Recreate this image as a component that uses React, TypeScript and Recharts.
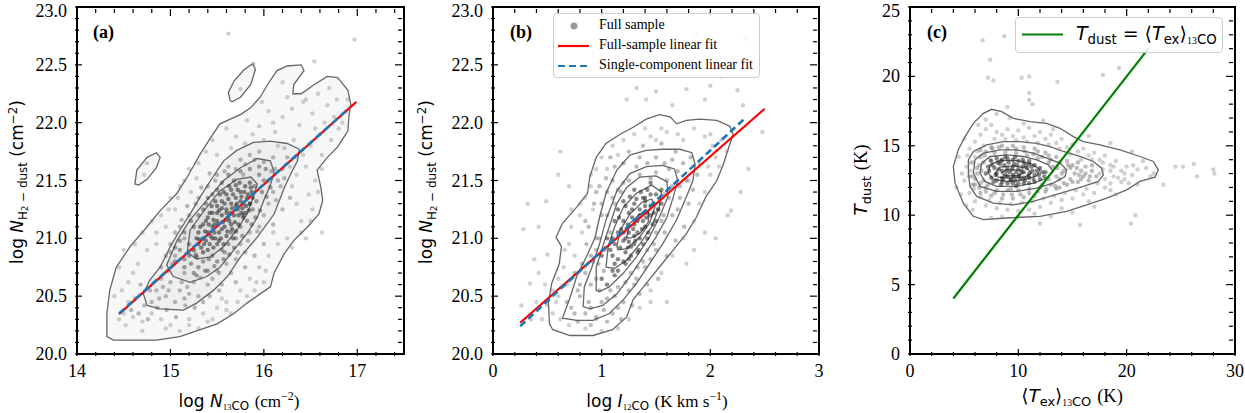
import React from "react";
import { Legend, ReferenceArea, Scatter, ScatterChart, XAxis, YAxis } from "recharts";

type Pair = [number, number];

// ---------------------------------------------------------------- ticks
const A_X_TICKS = [14, 14.2, 14.4, 14.6, 14.8, 15, 15.2, 15.4, 15.6, 15.8, 16, 16.2, 16.4, 16.6, 16.8, 17, 17.2, 17.4];
const A_X_MAJOR = [14, 15, 16, 17];
const B_X_TICKS = [0, 0.2, 0.4, 0.6, 0.8, 1, 1.2, 1.4, 1.6, 1.8, 2, 2.2, 2.4, 2.6, 2.8, 3];
const B_X_MAJOR = [0, 1, 2, 3];
const NH2_Y_TICKS = [
  20, 20.1, 20.2, 20.3, 20.4, 20.5, 20.6, 20.7, 20.8, 20.9, 21, 21.1, 21.2, 21.3, 21.4, 21.5,
  21.6, 21.7, 21.8, 21.9, 22, 22.1, 22.2, 22.3, 22.4, 22.5, 22.6, 22.7, 22.8, 22.9, 23,
];
const NH2_Y_MAJOR = [20, 20.5, 21, 21.5, 22, 22.5, 23];
const C_X_TICKS = [0, 2, 4, 6, 8, 10, 12, 14, 16, 18, 20, 22, 24, 26, 28, 30];
const C_X_MAJOR = [0, 10, 20, 30];
const C_Y_TICKS = [0, 1, 2, 3, 4, 5, 6, 7, 8, 9, 10, 11, 12, 13, 14, 15, 16, 17, 18, 19, 20, 21, 22, 23, 24, 25];
const C_Y_MAJOR = [0, 5, 10, 15, 20, 25];

// ---------------------------------------------------------------- panel (a)
const A_FIT_FULL: Pair[] = [[14.45, 20.345], [16.99, 22.18]];
const A_FIT_SINGLE: Pair[] = [[14.45, 20.35], [16.92, 22.13]];

const A_CONTOUR_OUTER: Pair[] = [
  [14.32, 20.15], [14.32, 20.35], [14.35, 20.55], [14.42, 20.75], [14.57, 20.93], [14.75, 21.1],
  [14.89, 21.24], [15.07, 21.39], [15.18, 21.53], [15.32, 21.73], [15.43, 21.87], [15.53, 21.99],
  [15.64, 22.03], [15.75, 22.07], [15.86, 22.13], [15.96, 22.22], [16.04, 22.33], [16.14, 22.45],
  [16.25, 22.49], [16.4, 22.5], [16.43, 22.45], [16.32, 22.33], [16.31, 22.25], [16.4, 22.25],
  [16.54, 22.33], [16.68, 22.4], [16.79, 22.39], [16.9, 22.28], [16.93, 22.16], [16.91, 22.05],
  [16.9, 21.93], [16.79, 21.79], [16.68, 21.7], [16.57, 21.59], [16.61, 21.44], [16.63, 21.33],
  [16.59, 21.21], [16.47, 21.1], [16.32, 20.98], [16.22, 20.87], [16.11, 20.7], [16.07, 20.58],
  [15.96, 20.52], [15.82, 20.44], [15.68, 20.35], [15.5, 20.26], [15.32, 20.21], [15.1, 20.15],
  [14.85, 20.12], [14.6, 20.12], [14.39, 20.12],
];
const A_CONTOUR_ISLAND_TOP: Pair[] = [
  [15.64, 22.19], [15.62, 22.26], [15.68, 22.36], [15.79, 22.46], [15.88, 22.51], [15.91, 22.46],
  [15.86, 22.33], [15.75, 22.22], [15.66, 22.18],
];
const A_CONTOUR_ISLAND_LEFT: Pair[] = [
  [14.62, 21.47], [14.64, 21.59], [14.75, 21.7], [14.85, 21.74], [14.89, 21.7], [14.85, 21.61],
  [14.75, 21.51], [14.66, 21.46],
];
const A_CONTOUR_2: Pair[] = [
  [14.75, 20.42], [14.71, 20.52], [14.78, 20.64], [14.89, 20.75], [15.0, 20.93], [15.1, 21.07],
  [15.21, 21.21], [15.32, 21.36], [15.43, 21.5], [15.57, 21.67], [15.71, 21.76], [15.89, 21.83],
  [16.07, 21.84], [16.25, 21.82], [16.38, 21.77], [16.36, 21.67], [16.29, 21.56], [16.22, 21.44],
  [16.11, 21.21], [15.93, 21.01], [15.75, 20.84], [15.61, 20.67], [15.46, 20.55], [15.28, 20.44],
  [15.14, 20.38], [14.89, 20.39],
];
const A_CONTOUR_3: Pair[] = [
  [14.96, 20.77], [15.07, 20.98], [15.21, 21.16], [15.39, 21.33], [15.57, 21.5], [15.75, 21.61],
  [15.93, 21.69], [16.07, 21.67], [16.11, 21.57], [16.07, 21.46], [16.0, 21.33], [15.93, 21.18],
  [15.82, 21.04], [15.68, 20.9], [15.53, 20.75], [15.39, 20.67], [15.21, 20.62], [15.03, 20.67],
];
const A_CONTOUR_4: Pair[] = [
  [15.18, 20.88], [15.21, 21.07], [15.36, 21.24], [15.53, 21.41], [15.71, 21.51], [15.86, 21.53],
  [15.93, 21.47], [15.89, 21.36], [15.82, 21.21], [15.71, 21.07], [15.57, 20.93], [15.43, 20.84],
  [15.28, 20.82],
];

const A_POINTS_SPARSE: Pair[] = [
  [15.62, 22.77], [16.97, 22.72], [16.54, 22.53], [15.89, 22.51], [15.75, 22.29], [16.45, 21.0],
  [16.62, 21.05], [14.48, 20.55], [16.2, 22.35], [16.42, 22.18],
  [15.45, 21.85], [15.6, 21.95], [15.7, 21.88], [15.82, 22.02], [15.95, 21.97], [16.05, 22.1],
  [16.12, 21.92], [16.2, 22.05], [16.3, 22.12], [16.38, 21.98], [16.45, 22.2], [16.52, 22.08],
  [16.6, 21.9], [16.68, 22.15], [16.75, 22.05], [16.8, 21.95], [16.88, 22.1], [16.9, 22.2],
  [16.7, 22.3], [16.58, 22.25], [16.25, 22.22], [15.98, 22.18], [16.15, 21.8], [16.32, 21.85],
  [16.5, 21.8], [16.62, 21.72], [16.45, 21.62], [16.55, 21.5], [16.48, 21.38], [16.52, 21.25],
  [16.4, 21.15], [16.35, 21.3], [16.3, 21.45], [16.42, 21.72], [16.28, 21.62],
  [14.45, 20.75], [14.5, 20.9], [14.62, 20.95], [14.7, 21.05], [14.8, 21.15], [14.9, 21.2],
  [15.0, 21.35], [15.1, 21.45], [15.2, 21.6], [15.3, 21.65], [14.55, 20.62], [14.4, 20.5],
  [14.65, 20.78], [14.85, 20.95], [15.05, 21.25], [14.72, 21.55], [14.75, 21.65], [14.95, 21.1],
  [15.15, 21.5], [15.38, 21.75],
  [14.45, 20.3], [14.52, 20.25], [14.6, 20.32], [14.7, 20.28], [14.8, 20.35], [14.9, 20.3],
  [15.0, 20.25], [15.2, 20.3], [15.35, 20.35], [15.5, 20.4], [15.6, 20.45], [15.75, 20.55],
  [15.85, 20.65], [15.95, 20.75], [16.05, 20.85], [16.15, 20.95], [16.25, 21.0], [15.45, 20.3],
  [15.3, 20.22], [15.1, 20.2], [15.65, 20.35], [15.9, 20.55], [16.0, 20.62], [15.55, 20.48],
  [16.1, 21.05],
  [16.35, 21.55], [16.22, 21.78], [16.35, 21.7], [16.55, 21.95], [16.65, 22.0], [16.78, 22.2],
  [16.84, 22.0], [16.72, 21.85], [16.62, 21.6], [16.58, 21.4], [16.5, 21.15], [16.4, 21.05],
  [16.3, 20.92], [16.02, 20.72], [15.92, 20.62], [15.82, 20.5], [15.72, 20.45], [15.6, 20.38],
  [15.4, 20.28], [15.2, 20.25], [14.95, 20.22], [14.7, 20.2], [14.5, 20.35], [14.55, 20.45],
  [14.6, 20.7], [14.75, 20.9], [14.85, 21.05], [14.98, 21.25], [15.08, 21.35], [15.22, 21.4],
  [15.28, 21.52], [15.5, 21.72], [15.65, 21.78], [15.8, 21.82], [16.0, 21.85], [16.1, 22.0],
  [15.88, 21.9],
];
const A_POINTS_MID: Pair[] = [
  [14.8, 20.45], [14.85, 20.55], [14.95, 20.5], [14.9, 20.65], [15.0, 20.62], [15.05, 20.45],
  [15.1, 20.55], [15.15, 20.48], [15.2, 20.52], [15.3, 20.5], [15.4, 20.6], [15.45, 20.65],
  [15.5, 20.72], [15.6, 20.78], [15.7, 20.82], [15.75, 20.95], [15.8, 20.88], [15.85, 21.05],
  [15.95, 21.1], [16.0, 21.2], [16.05, 21.3], [16.1, 21.4], [16.15, 21.5], [16.2, 21.6],
  [16.25, 21.7], [16.1, 21.7], [15.95, 21.75], [15.85, 21.72], [15.75, 21.68], [15.62, 21.62],
  [15.5, 21.55], [15.4, 21.45], [15.3, 21.35], [15.2, 21.2], [15.1, 21.1], [15.0, 20.95],
  [14.95, 20.85], [14.9, 20.75], [15.02, 20.78], [15.15, 20.7], [15.25, 20.62], [15.55, 20.6],
  [15.65, 20.7], [16.05, 21.5], [16.12, 21.6], [15.78, 21.55], [15.15, 21.0], [15.05, 20.85],
  [14.98, 20.55], [15.35, 20.45],
  [15.12, 20.62], [15.18, 20.58], [15.32, 20.66], [15.52, 20.7], [15.72, 20.88], [15.83, 20.98],
  [15.93, 21.06], [16.13, 21.33], [16.18, 21.45], [16.22, 21.52], [16.08, 21.58], [16.0, 21.66],
  [15.9, 21.68], [15.8, 21.64], [15.7, 21.6], [15.58, 21.58], [15.48, 21.5], [15.42, 21.56],
  [15.33, 21.44], [15.27, 21.3], [15.18, 21.28], [15.12, 21.16], [15.05, 21.05], [15.0, 20.88],
  [14.97, 20.72], [14.92, 20.58], [14.88, 20.48], [14.78, 20.55], [14.72, 20.42], [14.68, 20.6],
  [14.62, 20.48], [14.58, 20.38], [14.66, 20.35], [14.76, 20.3], [14.86, 20.4], [14.96, 20.38],
  [15.06, 20.32], [15.16, 20.42], [15.26, 20.4], [15.42, 20.5], [15.52, 20.55], [15.7, 20.62],
  [15.8, 20.75], [15.9, 20.85], [16.0, 20.95], [16.1, 21.12], [16.2, 21.25], [16.28, 21.35],
];
const A_POINTS_INNER: Pair[] = [
  [15.05, 20.8], [15.1, 20.9], [15.15, 20.75], [15.2, 20.85], [15.25, 20.7], [15.3, 20.75],
  [15.4, 20.72], [15.5, 20.8], [15.55, 20.9], [15.62, 20.95], [15.7, 21.0], [15.75, 21.1],
  [15.82, 21.15], [15.88, 21.25], [15.92, 21.32], [15.98, 21.4], [16.0, 21.5], [16.02, 21.6],
  [15.95, 21.62], [15.85, 21.6], [15.75, 21.58], [15.62, 21.55], [15.55, 21.48], [15.45, 21.38],
  [15.38, 21.3], [15.3, 21.2], [15.25, 21.1], [15.15, 21.05], [15.1, 20.98], [15.2, 20.95],
  [15.35, 20.8], [15.45, 20.85], [15.65, 21.05], [15.78, 21.2], [15.9, 21.45], [15.68, 21.5],
  [15.5, 21.42], [15.35, 21.25], [15.22, 21.15], [15.15, 20.82], [15.28, 20.68], [15.95, 21.55],
  [15.58, 20.88], [15.85, 21.3], [15.4, 21.35], [15.05, 20.92],
  [15.22, 20.78], [15.27, 20.86], [15.37, 20.72], [15.41, 20.82], [15.47, 20.76], [15.57, 20.82],
  [15.63, 20.86], [15.68, 20.92], [15.77, 21.02], [15.87, 21.12], [15.91, 21.18], [15.96, 21.24],
  [16.03, 21.36], [16.07, 21.44],
];
const A_POINTS_CORE: Pair[] = [
  [15.25, 20.9], [15.3, 20.95], [15.35, 21.0], [15.4, 21.05], [15.45, 21.1], [15.5, 21.15],
  [15.55, 21.2], [15.6, 21.25], [15.65, 21.3], [15.7, 21.35], [15.75, 21.4], [15.8, 21.45],
  [15.85, 21.48], [15.3, 21.05], [15.35, 21.12], [15.4, 21.18], [15.45, 21.22], [15.5, 21.28],
  [15.55, 21.32], [15.6, 21.38], [15.65, 21.42], [15.7, 21.46], [15.35, 20.88], [15.42, 20.95],
  [15.48, 21.0], [15.52, 21.05], [15.58, 21.1], [15.63, 21.15], [15.68, 21.2], [15.72, 21.25],
  [15.78, 21.3], [15.82, 21.35], [15.87, 21.4], [15.4, 20.9], [15.46, 20.92], [15.52, 20.98],
  [15.6, 21.02], [15.66, 21.08], [15.73, 21.12], [15.8, 21.22], [15.85, 21.3], [15.28, 21.0],
  [15.33, 20.92], [15.45, 21.0], [15.55, 21.08], [15.62, 21.18], [15.7, 21.28], [15.76, 21.36],
  [15.5, 21.22], [15.58, 21.3], [15.38, 21.15], [15.44, 21.28], [15.53, 21.38], [15.63, 21.45],
  [15.74, 21.48], [15.78, 21.18], [15.67, 21.0], [15.57, 20.95], [15.47, 21.12], [15.6, 21.22],
  [15.28, 20.84], [15.32, 21.1], [15.38, 20.98], [15.43, 21.02], [15.47, 21.05], [15.51, 21.12],
  [15.54, 21.0], [15.56, 21.14], [15.59, 21.16], [15.61, 21.06], [15.64, 21.22], [15.66, 21.26],
  [15.69, 21.14], [15.71, 21.3], [15.73, 21.2], [15.75, 21.32], [15.77, 21.26], [15.79, 21.4],
  [15.81, 21.28], [15.83, 21.38], [15.86, 21.44], [15.42, 21.22], [15.48, 21.32], [15.52, 21.24],
  [15.57, 21.4], [15.62, 21.34], [15.67, 21.38], [15.72, 21.42], [15.36, 20.95], [15.41, 21.12],
  [15.46, 21.16], [15.5, 20.95], [15.55, 21.26], [15.65, 21.12], [15.7, 21.06], [15.76, 21.22],
  [15.84, 21.24], [15.88, 21.35], [15.31, 20.99], [15.37, 21.06],
];

// ---------------------------------------------------------------- panel (b)
const B_FIT_FULL: Pair[] = [[0.25, 20.27], [2.5, 22.12]];
const B_FIT_SINGLE: Pair[] = [[0.25, 20.24], [2.31, 22.03]];

const B_CONTOUR_1: Pair[] = [
  [0.52, 20.26], [0.51, 20.44], [0.54, 20.61], [0.61, 20.78], [0.63, 20.93], [0.58, 21.01],
  [0.64, 21.13], [0.77, 21.27], [0.87, 21.39], [0.89, 21.53], [0.95, 21.7], [1.04, 21.82],
  [1.17, 21.9], [1.29, 21.96], [1.41, 22.03], [1.53, 22.07], [1.63, 22.05], [1.69, 21.99],
  [1.78, 22.02], [1.9, 22.03], [2.06, 22.02], [2.18, 21.97], [2.21, 21.9], [2.16, 21.76],
  [2.12, 21.64], [2.06, 21.5], [1.96, 21.36], [1.87, 21.18], [1.78, 21.04], [1.66, 20.9],
  [1.53, 20.75], [1.41, 20.61], [1.29, 20.47], [1.23, 20.32], [1.1, 20.21], [0.92, 20.16],
  [0.71, 20.16], [0.55, 20.21],
];
const B_CONTOUR_2: Pair[] = [
  [0.64, 20.31], [0.71, 20.49], [0.77, 20.67], [0.86, 20.84], [0.94, 21.01], [0.98, 21.18],
  [1.04, 21.39], [1.14, 21.59], [1.26, 21.72], [1.41, 21.76], [1.56, 21.77], [1.72, 21.77],
  [1.83, 21.74], [1.86, 21.64], [1.84, 21.5], [1.78, 21.36], [1.69, 21.16], [1.56, 20.95],
  [1.44, 20.78], [1.32, 20.61], [1.2, 20.47], [1.07, 20.35], [0.92, 20.29], [0.77, 20.29],
];
const B_CONTOUR_3: Pair[] = [
  [0.83, 20.41], [0.84, 20.58], [0.91, 20.75], [0.98, 20.95], [1.04, 21.16], [1.14, 21.41],
  [1.26, 21.56], [1.41, 21.62], [1.56, 21.63], [1.67, 21.6], [1.7, 21.5], [1.66, 21.36],
  [1.6, 21.18], [1.5, 21.01], [1.38, 20.84], [1.26, 20.67], [1.14, 20.52], [1.01, 20.42],
  [0.89, 20.39],
];
const B_CONTOUR_4: Pair[] = [
  [0.95, 20.55], [0.95, 20.75], [1.01, 20.93], [1.07, 21.1], [1.14, 21.3], [1.23, 21.44],
  [1.35, 21.53], [1.5, 21.54], [1.6, 21.49], [1.61, 21.36], [1.53, 21.18], [1.44, 21.01],
  [1.32, 20.84], [1.2, 20.7], [1.07, 20.58], [0.98, 20.54],
];
const B_CONTOUR_5: Pair[] = [
  [1.04, 20.75], [1.06, 20.93], [1.12, 21.1], [1.2, 21.27], [1.32, 21.39], [1.46, 21.46],
  [1.55, 21.4], [1.53, 21.27], [1.46, 21.1], [1.35, 20.95], [1.23, 20.81], [1.12, 20.74],
];
const B_CONTOUR_6: Pair[] = [
  [1.14, 20.93], [1.17, 21.07], [1.26, 21.21], [1.37, 21.31], [1.46, 21.34], [1.49, 21.27],
  [1.44, 21.13], [1.35, 21.01], [1.23, 20.91], [1.15, 20.9],
];
const B_CONTOUR_7: Pair[] = [
  [1.23, 21.01], [1.26, 21.13], [1.35, 21.21], [1.43, 21.23], [1.43, 21.14], [1.35, 21.04],
  [1.26, 21.0],
];

const B_POINTS_SPARSE: Pair[] = [
  [0.28, 21.08], [0.49, 21.32], [0.5, 20.86], [0.38, 20.82], [0.6, 21.55], [0.34, 20.61],
  [0.26, 20.42], [1.6, 20.45], [2.16, 21.2], [2.19, 21.24], [2.48, 21.92], [2.25, 22.28],
  [1.32, 22.3], [1.5, 22.27], [1.78, 22.29], [2.0, 22.32], [1.87, 22.77], [2.32, 22.72],
  [2.19, 22.5], [1.41, 22.2], [1.23, 22.2], [2.1, 22.4], [1.65, 22.15], [2.3, 22.15],
  [1.95, 22.2], [0.45, 20.3],
  [0.55, 20.35], [0.6, 20.5], [0.65, 20.75], [0.7, 20.95], [0.72, 21.1], [0.8, 21.2],
  [0.85, 21.35], [0.9, 21.45], [0.95, 21.6], [1.0, 21.7], [1.1, 21.8], [1.2, 21.85],
  [1.3, 21.9], [1.4, 21.95], [1.55, 21.95], [1.7, 21.9], [1.85, 21.95], [2.0, 21.9],
  [2.1, 21.85], [2.05, 21.7], [2.0, 21.55], [1.95, 21.4], [1.9, 21.3], [1.85, 21.15],
  [1.75, 21.0], [1.65, 20.85], [1.55, 20.7], [1.45, 20.55], [1.35, 20.4], [1.25, 20.3],
  [1.15, 20.22], [1.0, 20.2], [0.85, 20.22], [0.7, 20.25], [0.62, 20.3], [0.68, 20.6],
  [0.75, 20.85], [0.82, 21.05], [0.92, 21.25], [1.05, 21.6], [2.15, 21.75], [1.5, 21.85],
  [1.9, 21.65], [1.8, 21.5], [0.58, 20.45], [0.95, 20.3], [1.45, 20.45],
  [2.02, 21.8], [1.95, 21.88], [2.08, 21.62], [1.98, 21.62], [1.75, 21.85], [1.6, 21.92],
  [1.45, 21.88], [1.15, 21.72], [0.9, 21.55], [0.8, 21.3], [0.72, 21.25], [0.66, 20.9],
  [0.6, 20.65], [0.55, 20.55], [0.5, 20.42], [0.48, 20.6], [0.42, 20.7], [0.4, 20.45],
  [0.35, 20.3], [0.32, 21.3], [0.42, 21.1], [0.62, 21.75], [0.7, 21.45], [2.28, 21.4],
  [2.35, 21.6], [2.05, 21.0], [1.95, 21.05], [1.78, 20.78], [1.85, 20.9],
];
const B_POINTS_MID: Pair[] = [
  [0.75, 20.35], [0.8, 20.5], [0.85, 20.7], [0.9, 20.85], [0.95, 21.0], [1.0, 21.2],
  [1.05, 21.4], [1.1, 21.5], [1.2, 21.65], [1.35, 21.7], [1.5, 21.7], [1.65, 21.68],
  [1.75, 21.65], [1.78, 21.5], [1.72, 21.35], [1.65, 21.2], [1.58, 21.05], [1.5, 20.9],
  [1.4, 20.75], [1.3, 20.6], [1.2, 20.45], [1.1, 20.35], [0.95, 20.32], [0.85, 20.35],
  [0.8, 20.6], [1.0, 21.3], [1.62, 21.6], [1.7, 21.25], [1.45, 20.82], [1.15, 20.4],
  [0.9, 20.4], [1.02, 20.38],
  [0.88, 20.45], [0.9, 20.6], [0.92, 20.8], [0.98, 21.0], [1.05, 21.2], [1.1, 21.35],
  [1.2, 21.48], [1.35, 21.55], [1.5, 21.57], [1.6, 21.5], [1.62, 21.35], [1.57, 21.2],
  [1.5, 21.05], [1.42, 20.9], [1.33, 20.75], [1.22, 20.62], [1.12, 20.5], [1.0, 20.45],
  [0.95, 20.65], [1.08, 20.55], [1.27, 20.7], [1.55, 21.15], [1.45, 21.52], [1.15, 21.42],
  [0.95, 20.9],
  [0.72, 20.4], [0.78, 20.55], [0.82, 20.78], [0.86, 20.95], [0.88, 21.1], [0.93, 21.3],
  [0.98, 21.45], [1.04, 21.52], [1.12, 21.62], [1.25, 21.75], [1.38, 21.8], [1.55, 21.82],
  [1.68, 21.75], [1.82, 21.7], [1.88, 21.55], [1.84, 21.42], [1.8, 21.3], [1.76, 21.1],
  [1.68, 20.98], [1.6, 20.85], [1.52, 20.65], [1.42, 20.6], [1.35, 20.52], [1.28, 20.42],
  [1.18, 20.3], [1.05, 20.28], [0.9, 20.25], [0.78, 20.28], [0.68, 20.45], [0.75, 20.7],
  [0.85, 21.15], [0.95, 21.4], [1.08, 21.7], [1.65, 21.45], [1.7, 21.58], [1.52, 21.25],
  [1.58, 21.38], [0.98, 20.55], [1.05, 20.48], [1.15, 20.58], [1.25, 20.55], [1.32, 20.65],
  [1.38, 20.8], [1.48, 20.95], [1.02, 20.72], [0.97, 20.78], [1.03, 20.9], [1.08, 21.05],
  [1.12, 21.3], [1.18, 21.4], [1.25, 21.5], [1.32, 21.62], [1.42, 21.65], [1.58, 21.65],
  [1.72, 21.45],
];
const B_POINTS_CORE: Pair[] = [
  [1.0, 20.65], [1.0, 20.85], [1.05, 21.0], [1.12, 21.15], [1.2, 21.32], [1.3, 21.42],
  [1.45, 21.48], [1.55, 21.42], [1.55, 21.3], [1.5, 21.15], [1.42, 21.0], [1.33, 20.88],
  [1.22, 20.78], [1.12, 20.68], [1.05, 20.6], [1.1, 20.72], [1.25, 20.82], [1.4, 21.35],
  [1.48, 21.22], [1.15, 21.25],
  [1.1, 20.85], [1.12, 20.95], [1.15, 21.05], [1.2, 21.15], [1.25, 21.22], [1.3, 21.3],
  [1.38, 21.35], [1.45, 21.38], [1.48, 21.3], [1.45, 21.2], [1.4, 21.1], [1.35, 21.0],
  [1.3, 20.95], [1.22, 20.88], [1.15, 20.82], [1.2, 20.98], [1.25, 21.05], [1.3, 21.12],
  [1.35, 21.2], [1.4, 21.28], [1.27, 20.93], [1.33, 21.05], [1.38, 21.15], [1.42, 21.22],
  [1.18, 21.08], [1.22, 21.0], [1.28, 21.18], [1.35, 21.25], [1.3, 21.02], [1.25, 20.97],
  [1.12, 20.78], [1.17, 20.92], [1.2, 21.05], [1.24, 21.12], [1.28, 21.25], [1.32, 21.34],
  [1.36, 21.4], [1.42, 21.42], [1.5, 21.38], [1.52, 21.25], [1.47, 21.12], [1.43, 21.05],
  [1.38, 20.95], [1.34, 20.9], [1.27, 20.85], [1.2, 20.8], [1.15, 20.72], [1.08, 20.9],
  [1.1, 21.0], [1.16, 21.18], [1.22, 21.28], [1.26, 21.36], [1.33, 21.15], [1.37, 21.08],
  [1.41, 21.18], [1.45, 21.28], [1.29, 21.08], [1.24, 20.92], [1.31, 20.98], [1.4, 21.32],
];

// ---------------------------------------------------------------- panel (c)
const C_ONE_TO_ONE: Pair[] = [[4, 4], [22, 22]];

const C_CONTOUR_1: Pair[] = [
  [5.85, 9.92], [4.92, 10.87], [4.16, 12.31], [4.0, 13.51], [4.46, 14.71], [5.08, 15.66],
  [5.85, 16.62], [6.77, 17.34], [7.54, 17.63], [8.46, 17.46], [9.54, 16.98], [11.08, 16.74],
  [12.62, 16.62], [13.85, 16.26], [15.08, 15.66], [16.0, 15.3], [17.54, 15.06], [19.39, 14.71],
  [21.23, 14.23], [22.46, 13.87], [22.92, 13.27], [22.62, 12.74], [21.23, 12.43], [20.0, 11.83],
  [18.16, 11.23], [16.31, 10.75], [14.46, 10.27], [12.0, 9.92], [8.92, 9.8], [6.77, 9.68],
];
const C_CONTOUR_2: Pair[] = [
  [5.39, 13.03], [5.39, 13.99], [5.85, 14.59], [7.08, 15.06], [8.62, 15.3], [10.16, 15.3],
  [11.69, 15.18], [12.92, 14.94], [14.16, 14.59], [15.69, 14.23], [16.92, 13.87], [17.69, 13.39],
  [17.85, 12.91], [17.39, 12.43], [16.0, 12.07], [14.46, 11.71], [12.92, 11.35], [11.39, 10.99],
  [9.54, 10.75], [7.69, 10.87], [6.16, 11.35], [5.54, 12.07],
];
const C_CONTOUR_3: Pair[] = [
  [5.85, 13.03], [6.0, 13.99], [6.77, 14.47], [8.31, 14.71], [9.85, 14.71], [11.39, 14.47],
  [12.62, 14.11], [13.85, 13.75], [14.46, 13.27], [14.31, 12.79], [13.23, 12.31], [11.69, 11.95],
  [9.85, 11.71], [8.0, 11.71], [6.46, 12.07],
];
const C_CONTOUR_4: Pair[] = [
  [6.46, 13.03], [6.62, 13.75], [7.39, 14.23], [8.92, 14.35], [10.46, 14.23], [11.69, 13.99],
  [12.77, 13.63], [13.23, 13.15], [12.62, 12.67], [11.39, 12.31], [9.85, 12.07], [8.0, 12.07],
  [6.92, 12.43],
];
const C_CONTOUR_5: Pair[] = [
  [7.23, 13.03], [7.39, 13.63], [8.31, 13.94], [9.85, 13.94], [11.23, 13.7], [12.0, 13.27],
  [11.69, 12.84], [10.46, 12.55], [8.92, 12.43], [7.69, 12.6],
];
const C_CONTOUR_6: Pair[] = [
  [7.85, 13.03], [8.31, 13.46], [9.54, 13.56], [10.77, 13.39], [11.23, 13.03], [10.62, 12.74],
  [9.23, 12.67], [8.16, 12.74],
];
const C_CONTOUR_7: Pair[] = [
  [8.46, 13.03], [8.92, 13.27], [10.0, 13.27], [10.46, 13.03], [9.85, 12.84], [8.77, 12.84],
];

const C_POINTS_SPARSE: Pair[] = [
  [6.7, 22.6], [8.7, 22.9], [7.4, 21.2], [7.2, 19.9], [7.7, 19.7], [10.3, 19.9], [11.0, 20.0],
  [13.6, 19.6], [17.8, 20.1], [19.3, 20.6], [11.0, 18.8], [11.0, 18.3], [11.3, 18.0], [9.0, 17.8],
  [24.5, 13.5], [25.2, 13.5], [26.2, 13.7], [26.5, 12.8], [28.0, 13.3], [28.1, 13.0], [23.4, 12.2],
  [20.8, 10.0], [20.4, 9.4], [15.7, 9.3], [12.0, 9.4], [7.0, 16.9], [8.0, 17.3], [5.0, 15.5],
  [4.5, 14.2], [4.3, 12.0], [5.2, 10.7], [16.5, 15.7], [18.5, 15.2], [20.5, 14.6], [21.5, 13.9],
  [22.5, 13.0], [21.0, 12.2], [19.0, 11.5], [17.0, 10.6], [15.0, 10.2], [13.0, 9.9], [10.0, 9.9],
  [7.5, 9.8],
  [5.0, 12.5], [5.2, 13.5], [5.5, 14.8], [6.0, 15.3], [6.5, 15.8], [7.0, 16.2], [7.5, 16.5],
  [8.0, 16.0], [8.5, 15.8], [9.0, 16.2], [9.5, 15.7], [10.0, 16.1], [10.5, 15.6], [11.0, 16.3],
  [11.5, 15.7], [12.0, 16.0], [12.5, 15.5], [13.0, 15.8], [13.5, 15.2], [14.0, 15.5], [14.5, 14.9],
  [15.0, 15.1], [15.5, 14.6], [16.0, 14.8], [16.5, 14.3], [17.0, 14.5], [17.5, 14.0], [18.0, 14.3],
  [18.5, 13.6], [19.0, 13.9], [19.5, 13.2], [20.0, 13.5], [20.5, 12.9], [21.0, 13.3], [19.5, 12.4],
  [18.5, 12.3], [18.0, 12.0], [17.0, 11.6], [16.0, 11.5], [15.0, 11.2], [14.0, 11.1], [13.0, 10.9],
  [12.0, 10.6], [11.0, 10.4], [10.0, 10.3], [9.0, 10.4], [8.0, 10.5], [7.0, 10.7], [6.0, 11.0],
  [5.5, 11.6], [5.6, 13.2], [6.2, 14.6], [18.8, 12.8], [19.8, 13.0], [17.8, 13.3],
  [17.5, 13.0], [18.0, 12.6], [18.5, 13.2], [19.2, 12.7], [17.3, 12.3], [16.3, 11.9], [15.3, 11.8],
  [14.3, 11.6], [13.3, 11.4], [12.3, 11.2], [11.3, 11.0], [10.3, 10.9], [9.3, 10.8], [8.3, 10.9],
  [7.3, 11.1], [6.5, 11.3], [5.9, 11.9], [5.4, 12.8], [5.5, 13.8], [6.0, 14.2], [6.8, 15.0],
  [7.8, 15.5], [8.8, 15.5], [9.8, 15.4], [10.8, 15.3], [11.8, 15.2], [12.8, 15.1], [13.8, 14.8],
  [14.8, 14.4], [15.8, 14.0], [16.8, 14.0], [17.8, 13.8], [18.8, 13.5], [19.8, 12.6], [20.6, 13.6],
  [21.8, 13.4], [22.2, 12.8], [20.2, 12.3], [13.2, 16.2], [12.3, 16.8], [10.5, 16.6], [9.2, 17.0],
  [6.3, 16.5], [5.3, 14.3], [4.8, 13.0], [4.7, 11.5], [5.8, 10.4], [8.5, 9.9], [11.5, 10.1],
  [14.0, 10.5], [16.5, 11.0], [18.5, 11.8],
];
const C_POINTS_MID: Pair[] = [
  [5.7, 12.8], [5.8, 13.8], [6.5, 14.7], [7.5, 14.9], [8.5, 15.0], [9.5, 15.0], [10.5, 14.9],
  [11.5, 14.8], [12.5, 14.5], [13.5, 14.2], [14.5, 13.9], [15.5, 13.8], [16.2, 13.5], [16.8, 13.2],
  [17.2, 12.8], [16.5, 12.5], [15.5, 12.4], [14.8, 12.6], [14.5, 12.2], [13.5, 11.9], [12.5, 11.7],
  [11.5, 11.4], [10.5, 11.3], [9.5, 11.2], [8.5, 11.2], [7.5, 11.4], [6.5, 11.6], [6.0, 12.2],
  [15.8, 13.2], [16.0, 12.8], [15.2, 13.0], [14.8, 13.4], [13.8, 12.0], [12.8, 14.3], [11.8, 14.6],
  [6.2, 13.0], [6.4, 13.6], [6.9, 14.3], [7.8, 14.5], [8.8, 14.5], [9.8, 14.5], [10.8, 14.3],
  [11.8, 14.1], [12.8, 13.8], [13.6, 13.4], [14.0, 13.0], [13.8, 12.6], [13.0, 12.2], [12.0, 12.0],
  [11.0, 11.9], [10.0, 11.8], [9.0, 11.8], [8.0, 11.8], [7.0, 12.0], [6.5, 12.3], [13.2, 13.5],
  [12.2, 12.2], [7.4, 14.0], [9.3, 11.9],
  [6.0, 12.6], [6.2, 13.4], [6.5, 14.2], [7.0, 14.6], [7.6, 14.8], [8.2, 14.9], [9.0, 14.8],
  [9.8, 14.8], [10.6, 14.6], [11.4, 14.4], [12.2, 14.2], [13.0, 14.0], [13.8, 13.8], [14.6, 13.6],
  [15.4, 13.4], [16.2, 13.0], [16.6, 12.8], [15.8, 12.6], [15.0, 12.4], [14.2, 12.3], [13.4, 12.1],
  [12.6, 11.9], [11.8, 11.7], [11.0, 11.6], [10.2, 11.5], [9.4, 11.5], [8.6, 11.5], [7.8, 11.6],
  [7.0, 11.7], [6.4, 12.0], [5.8, 12.2], [6.8, 12.5], [6.6, 13.2], [6.8, 13.8], [7.2, 12.2],
  [12.8, 12.6], [13.5, 12.8], [14.2, 13.2], [15.0, 13.6], [15.6, 12.9], [16.8, 13.6],
];
const C_POINTS_CORE: Pair[] = [
  [7.0, 13.0], [7.2, 13.5], [7.5, 13.9], [8.0, 14.1], [8.5, 14.0], [9.0, 14.1], [9.5, 14.0],
  [10.0, 13.9], [10.5, 13.8], [11.0, 13.7], [11.5, 13.6], [12.0, 13.4], [12.5, 13.1], [12.4, 12.8],
  [12.0, 12.6], [11.5, 12.4], [11.0, 12.3], [10.5, 12.3], [10.0, 12.3], [9.5, 12.3], [9.0, 12.3],
  [8.5, 12.4], [8.0, 12.5], [7.5, 12.7], [8.0, 13.0], [8.5, 13.2], [9.0, 13.4], [9.5, 13.5],
  [10.0, 13.3], [10.5, 13.1], [11.0, 13.0], [11.5, 12.9], [11.0, 12.7], [10.5, 12.7], [10.0, 12.8],
  [9.5, 12.9], [9.0, 12.8], [8.5, 12.7], [8.7, 13.6], [9.2, 13.1], [9.8, 13.1], [10.2, 12.6],
  [9.7, 12.5], [9.3, 12.6], [8.8, 12.9], [10.8, 13.4], [11.3, 13.2], [7.8, 13.4], [8.3, 13.7],
  [9.6, 13.7], [10.4, 13.5],
  [7.3, 13.2], [7.6, 13.6], [7.9, 12.9], [8.2, 13.3], [8.4, 13.9], [8.6, 12.6], [8.9, 13.2],
  [9.1, 13.8], [9.3, 12.5], [9.4, 13.3], [9.6, 12.8], [9.9, 13.6], [10.1, 12.9], [10.3, 13.2],
  [10.6, 12.5], [10.7, 13.6], [10.9, 12.8], [11.2, 13.5], [11.4, 12.6], [11.7, 13.2], [11.9, 12.9],
  [12.2, 13.1], [8.1, 13.8], [8.8, 14.2], [9.7, 14.2], [10.4, 14.0], [11.0, 13.9], [7.7, 12.4],
  [8.4, 12.2], [9.8, 12.1],
];

// ---------------------------------------------------------------- layout / style
const SERIF = '"Liberation Serif", "DejaVu Serif", serif';
const SANS = '"DejaVu Sans", "Liberation Sans", sans-serif';
const CHART_W = 415;
const CHART_H = 413;
const PLOT_TOP = 7;
const PLOT_H = 347;
const Y_AXIS_W = 40;
const X_AXIS_H = 30;

const RED = "#ff0000";
const BLUE = "#1f77b4";
const GREEN = "#008000";
const CONTOUR = "#666666";

const toXY = (arr: Pair[]) => arr.map(([x, y]) => ({ x, y }));
const isIn = (list: number[], v: number) => list.some((m) => Math.abs(m - v) < 1e-6);
const noDot = () => <g />;

const dot = (fill: string, opacity: number) => (p: any) =>
  p.cx == null ? <g /> : <circle cx={p.cx} cy={p.cy} r={2.2} fill={fill} fillOpacity={opacity} />;

// matplotlib-style inward ticks on all four sides
function xTick(major: number[], fmt: (v: number) => string) {
  return (p: any) => {
    const v = p.payload.value;
    const big = isIn(major, v);
    const len = big ? 7 : 4;
    return (
      <g>
        <line x1={p.x} x2={p.x} y1={p.y} y2={p.y - len} stroke="#000" strokeWidth={1.2} />
        <line x1={p.x} x2={p.x} y1={p.y - PLOT_H} y2={p.y - PLOT_H + len} stroke="#000" strokeWidth={1.2} />
        {big && (
          <text x={p.x} y={p.y + 21} textAnchor="middle" fontFamily={SERIF} fontSize={18} fill="#000">
            {fmt(v)}
          </text>
        )}
      </g>
    );
  };
}

function yTick(major: number[], plotW: number, fmt: (v: number) => string) {
  return (p: any) => {
    const v = p.payload.value;
    const big = isIn(major, v);
    const len = big ? 7 : 4;
    // keep the topmost label fully inside the page
    const ty = Math.max(p.y + 6, 16.5);
    return (
      <g>
        <line x1={p.x} x2={p.x + len} y1={p.y} y2={p.y} stroke="#000" strokeWidth={1.2} />
        <line x1={p.x + plotW} x2={p.x + plotW - len} y1={p.y} y2={p.y} stroke="#000" strokeWidth={1.2} />
        {big && (
          <text x={p.x - 8} y={ty} textAnchor="end" fontFamily={SERIF} fontSize={18} fill="#000">
            {fmt(v)}
          </text>
        )}
      </g>
    );
  };
}

function contours(id: string, rings: Pair[][], fill: string, fillOpacity: number) {
  return rings.map((ring, i) => (
    <Scatter
      key={`${id}-${i}`}
      data={toXY(ring)}
      line={{ stroke: CONTOUR, strokeWidth: 1.3, fill, fillOpacity }}
      lineType="joint"
      lineJointType="linearClosed"
      shape={noDot}
      isAnimationActive={false}
    />
  ));
}

function fitLine(id: string, pts: Pair[], stroke: string, width: number, dash?: string) {
  return (
    <Scatter
      key={id}
      data={toXY(pts)}
      line={{ stroke, strokeWidth: width, strokeDasharray: dash, fill: "none" }}
      lineType="joint"
      shape={noDot}
      isAnimationActive={false}
    />
  );
}

function cloud(id: string, pts: Pair[], fill: string, opacity: number) {
  return <Scatter key={id} data={toXY(pts)} shape={dot(fill, opacity)} isAnimationActive={false} />;
}

interface PanelProps {
  left: number;
  plotLeft: number;
  plotW: number;
  xDomain: [number, number];
  yDomain: [number, number];
  xTicks: number[];
  xMajor: number[];
  yTicks: number[];
  yMajor: number[];
  xFmt: (v: number) => string;
  yFmt: (v: number) => string;
  children: React.ReactNode;
}

function Panel(props: PanelProps) {
  const { left, plotLeft, plotW, xDomain, yDomain } = props;
  return (
    <div style={{ position: "absolute", left, top: 0, width: CHART_W, height: CHART_H }}>
      <ScatterChart
        width={CHART_W}
        height={CHART_H}
        margin={{
          top: PLOT_TOP,
          left: plotLeft - Y_AXIS_W,
          right: CHART_W - plotLeft - plotW,
          bottom: CHART_H - PLOT_TOP - PLOT_H - X_AXIS_H,
        }}
      >
        <XAxis
          type="number"
          dataKey="x"
          domain={xDomain}
          allowDataOverflow
          ticks={props.xTicks}
          interval={0}
          tickSize={0}
          tickLine={false}
          axisLine={false}
          height={X_AXIS_H}
          tick={xTick(props.xMajor, props.xFmt)}
        />
        <YAxis
          type="number"
          dataKey="y"
          domain={yDomain}
          allowDataOverflow
          ticks={props.yTicks}
          interval={0}
          tickSize={0}
          tickLine={false}
          axisLine={false}
          width={Y_AXIS_W}
          tick={yTick(props.yMajor, plotW, props.yFmt)}
        />
        {props.children}
        <ReferenceArea
          x1={xDomain[0]}
          x2={xDomain[1]}
          y1={yDomain[0]}
          y2={yDomain[1]}
          fill="none"
          stroke="#000"
          strokeWidth={2}
          ifOverflow="visible"
        />
      </ScatterChart>
    </div>
  );
}

const Sub = ({ children, font }: { children: React.ReactNode; font?: string }) => (
  <span style={{ fontSize: "0.7em", verticalAlign: "-0.3em", fontFamily: font }}>{children}</span>
);
const Sup = ({ children }: { children: React.ReactNode }) => (
  <span style={{ fontSize: "0.7em", verticalAlign: "0.55em" }}>{children}</span>
);
const Iso = ({ n = "13" }: { n?: string }) => <span style={{ fontFamily: SERIF, fontSize: "0.75em" }}>{n}</span>;

const labelBase: React.CSSProperties = {
  position: "absolute",
  fontFamily: SANS,
  fontSize: 17,
  lineHeight: "20px",
  whiteSpace: "nowrap",
  color: "#000",
};

function XLabel({ cx, size = 17, children }: { cx: number; size?: number; children: React.ReactNode }) {
  return (
    <div style={{ ...labelBase, fontSize: size, left: cx, top: 386, transform: "translateX(-50%)" }}>{children}</div>
  );
}
function YLabel({ cx, cy, size = 17, children }: { cx: number; cy: number; size?: number; children: React.ReactNode }) {
  return (
    <div
      style={{ ...labelBase, fontSize: size, left: cx, top: cy, transform: "translate(-50%, -50%) rotate(-90deg)" }}
    >
      {children}
    </div>
  );
}
function Tag({ x, children }: { x: number; children: React.ReactNode }) {
  return (
    <div style={{ position: "absolute", left: x, top: 23, fontFamily: SERIF, fontWeight: 700, fontSize: 18, lineHeight: "18px" }}>
      {children}
    </div>
  );
}

const fmt1 = (v: number) => v.toFixed(1);
const fmt0 = (v: number) => String(Math.round(v));

function FitLegend() {
  return (
    <div
      style={{
        width: 207,
        height: 65,
        boxSizing: "border-box",
        border: "1px solid #cccccc",
        borderRadius: 4,
        background: "rgba(255,255,255,0.85)",
        position: "relative",
        fontFamily: SERIF,
        fontSize: 14,
      }}
    >
      <svg width={40} height={65} style={{ position: "absolute", left: 0, top: 0 }}>
        <circle cx={20} cy={12} r={3.5} fill="#999999" />
        <line x1={4} x2={35} y1={32} y2={32} stroke={RED} strokeWidth={2.2} />
        <line x1={4} x2={35} y1={52} y2={52} stroke={BLUE} strokeWidth={2.2} strokeDasharray="7 4" />
      </svg>
      <div style={{ position: "absolute", left: 45, top: 3 }}>Full sample</div>
      <div style={{ position: "absolute", left: 45, top: 23 }}>Full-sample linear fit</div>
      <div style={{ position: "absolute", left: 45, top: 43 }}>Single-component linear fit</div>
    </div>
  );
}

function OneToOneLegend() {
  return (
    <div
      style={{
        width: 208,
        height: 36,
        boxSizing: "border-box",
        border: "1px solid #cccccc",
        borderRadius: 4,
        background: "rgba(255,255,255,0.85)",
        position: "relative",
        fontFamily: SANS,
        fontSize: 19,
      }}
    >
      <svg width={50} height={36} style={{ position: "absolute", left: 0, top: 0 }}>
        <line x1={6} x2={47} y1={16.5} y2={16.5} stroke={GREEN} strokeWidth={2.2} />
      </svg>
      <div style={{ position: "absolute", left: 60, top: 3, lineHeight: "24px", whiteSpace: "nowrap" }}>
        <i>T</i>
        <Sub>dust</Sub> = ⟨<i>T</i>
        <Sub>ex</Sub>⟩<Sub><Iso />CO</Sub>
      </div>
    </div>
  );
}

export default function App() {
  return (
    <div style={{ position: "absolute", left: 0, top: 0, width: 1245, height: 413, background: "#fff", overflow: "hidden" }}>
      {/* (a) */}
      <Panel
        left={0}
        plotLeft={77}
        plotW={327}
        xDomain={[14, 17.5]}
        yDomain={[20, 23]}
        xTicks={A_X_TICKS}
        xMajor={A_X_MAJOR}
        yTicks={NH2_Y_TICKS}
        yMajor={NH2_Y_MAJOR}
        xFmt={fmt0}
        yFmt={fmt1}
      >
        {contours("a", [A_CONTOUR_OUTER, A_CONTOUR_ISLAND_TOP, A_CONTOUR_ISLAND_LEFT, A_CONTOUR_2, A_CONTOUR_3, A_CONTOUR_4], "#000", 0.03)}
        {cloud("a-sparse", A_POINTS_SPARSE, "#777777", 0.35)}
        {cloud("a-mid", A_POINTS_MID, "#555555", 0.4)}
        {cloud("a-inner", A_POINTS_INNER, "#333333", 0.45)}
        {cloud("a-core", A_POINTS_CORE, "#222222", 0.55)}
        {fitLine("a-full", A_FIT_FULL, RED, 2.2)}
        {fitLine("a-single", A_FIT_SINGLE, BLUE, 2.6, "7 4")}
      </Panel>

      {/* (b) */}
      <Panel
        left={415}
        plotLeft={78}
        plotW={326}
        xDomain={[0, 3]}
        yDomain={[20, 23]}
        xTicks={B_X_TICKS}
        xMajor={B_X_MAJOR}
        yTicks={NH2_Y_TICKS}
        yMajor={NH2_Y_MAJOR}
        xFmt={fmt0}
        yFmt={fmt1}
      >
        {contours("b", [B_CONTOUR_1, B_CONTOUR_2, B_CONTOUR_3, B_CONTOUR_4, B_CONTOUR_5, B_CONTOUR_6, B_CONTOUR_7], "none", 0)}
        {cloud("b-sparse", B_POINTS_SPARSE, "#777777", 0.35)}
        {cloud("b-mid", B_POINTS_MID, "#555555", 0.4)}
        {cloud("b-core", B_POINTS_CORE, "#222222", 0.55)}
        {fitLine("b-full", B_FIT_FULL, RED, 2.2)}
        {fitLine("b-single", B_FIT_SINGLE, BLUE, 2.6, "7 4")}
        <Legend
          layout="horizontal"
          verticalAlign="middle"
          align="center"
          wrapperStyle={{ top: 13, left: 138, width: 207, height: 65 }}
          content={() => <FitLegend />}
        />
      </Panel>

      {/* (c) */}
      <Panel
        left={830}
        plotLeft={80}
        plotW={325}
        xDomain={[0, 30]}
        yDomain={[0, 25]}
        xTicks={C_X_TICKS}
        xMajor={C_X_MAJOR}
        yTicks={C_Y_TICKS}
        yMajor={C_Y_MAJOR}
        xFmt={fmt0}
        yFmt={fmt0}
      >
        {contours("c", [C_CONTOUR_1, C_CONTOUR_2, C_CONTOUR_3, C_CONTOUR_4, C_CONTOUR_5, C_CONTOUR_6, C_CONTOUR_7], "none", 0)}
        {cloud("c-sparse", C_POINTS_SPARSE, "#777777", 0.35)}
        {cloud("c-mid", C_POINTS_MID, "#555555", 0.4)}
        {cloud("c-core", C_POINTS_CORE, "#222222", 0.55)}
        {fitLine("c-one", C_ONE_TO_ONE, GREEN, 2.2)}
        <Legend
          layout="horizontal"
          verticalAlign="middle"
          align="center"
          wrapperStyle={{ top: 17, left: 185, width: 208, height: 36 }}
          content={() => <OneToOneLegend />}
        />
      </Panel>

      <Tag x={93}>(a)</Tag>
      <Tag x={510}>(b)</Tag>
      <Tag x={927}>(c)</Tag>

      <XLabel cx={239}>
        log <i>N</i>
        <Sub><Iso />CO</Sub>{" "}
        <span style={{ fontFamily: SERIF }}>
          (cm<Sup>−2</Sup>)
        </span>
      </XLabel>
      <XLabel cx={657}>
        log <i>I</i>
        <Sub><Iso n="12" />CO</Sub>{" "}
        <span style={{ fontFamily: SERIF }}>
          (K km s<Sup>−1</Sup>)
        </span>
      </XLabel>
      <XLabel cx={1072} size={18.5}>
        ⟨<i>T</i>
        <Sub>ex</Sub>⟩<Sub><Iso />CO</Sub>{" "}
        <span style={{ fontFamily: SERIF }}>(K)</span>
      </XLabel>

      <YLabel cx={19} cy={182}>
        log <i>N</i>
        <Sub>
          H<span style={{ fontSize: "0.7em", verticalAlign: "-0.2em" }}>2</span> − dust
        </Sub>{" "}
        (cm<Sup>−2</Sup>)
      </YLabel>
      <YLabel cx={428} cy={182}>
        log <i>N</i>
        <Sub>
          H<span style={{ fontSize: "0.7em", verticalAlign: "-0.2em" }}>2</span> − dust
        </Sub>{" "}
        (cm<Sup>−2</Sup>)
      </YLabel>
      <YLabel cx={864} cy={180} size={18.5}>
        <i>T</i>
        <Sub>dust</Sub> <span style={{ fontFamily: SERIF }}>(K)</span>
      </YLabel>
    </div>
  );
}
